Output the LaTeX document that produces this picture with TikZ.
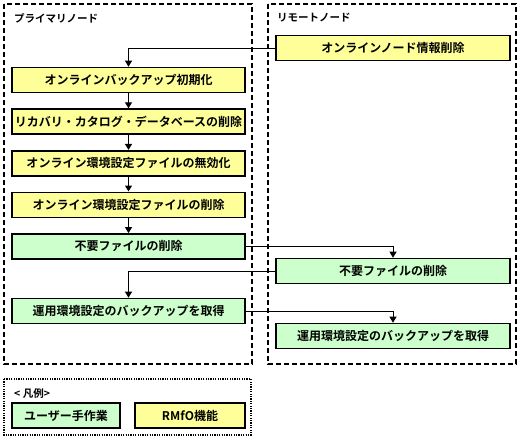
\documentclass[tikz,border=0pt]{standalone}
\usepackage{fontspec}
\setmainfont{Noto Sans CJK JP}[BoldFont={Noto Sans CJK JP Bold}]
\usetikzlibrary{positioning,calc,arrows.meta}
\tikzset{>={Triangle[length=6pt,width=7pt]}}
\definecolor{rmfoyellow}{RGB}{255,255,153}
\definecolor{usergreen}{RGB}{204,255,204}
\tikzset{
  task/.style={draw,line width=1.6pt,minimum height=25pt,inner sep=0pt,
    font=\bfseries\fontsize{12}{14}\selectfont},
  rmfo/.style={task,fill=rmfoyellow},
  user/.style={task,fill=usergreen},
  area/.style={draw,line width=1.4pt,dash pattern=on 5pt off 3pt},
  legendarea/.style={draw,line width=1.5pt,dash pattern=on 1.2pt off 1.2pt},
  title/.style={anchor=west,inner sep=0pt,font=\bfseries\fontsize{10.5}{12}\selectfont},
  flow/.style={->,line width=1pt},
}

\begin{document}
\begin{tikzpicture}[x=1pt,y=-1pt]
\useasboundingbox (0,0) rectangle (522,440);
% node areas
\draw [area] (4,4) rectangle (252,364);
\draw [area] (268,4) rectangle (516,364);
\node [title] (primary) at (14,18) {プライマリノード};
\node [title] (remote) at (277,18) {リモートノード};
% primary node
\node [rmfo,minimum width=233pt] (P1) at (128.5,80) {オンラインバックアップ初期化};
\node [rmfo,minimum width=233pt,below=15pt of P1] (P2) {リカバリ・カタログ・データベースの削除};
\node [rmfo,minimum width=233pt,below=15pt of P2] (P3) {オンライン環境設定ファイルの無効化};
\node [rmfo,minimum width=233pt,below=15pt of P3] (P4) {オンライン環境設定ファイルの削除};
\node [user,minimum width=233pt,below=15pt of P4] (P5) {不要ファイルの削除};
\node [user,minimum width=233pt,below=38pt of P5] (P6) {運用環境設定のバックアップを取得};
% remote node
\node [rmfo,minimum width=234pt] (R1) at (393,48) {オンラインノード情報削除};
\node [user,minimum width=234pt] (R2) at (393,271) {不要ファイルの削除};
\node [user,minimum width=234pt] (R3) at (393,336) {運用環境設定のバックアップを取得};
\draw [flow] (R1.west) -| (P1.north);
\draw [flow] (P1) -- (P2);
\draw [flow] (P2) -- (P3);
\draw [flow] (P3) -- (P4);
\draw [flow] (P4) -- (P5);
\draw [flow] (P5.east) -| (R2.north);
\draw [flow] (R2.west) -| (P6.north);
\draw [flow] (P6.east) -| (R3.north);
% legend
\draw [legendarea] (4,379) rectangle (251,435);
\node [title] (legend) at (14,394) {< 凡例>};
\node [user,minimum width=108pt] (Luser) at (66,415.5) {ユーザー手作業};
\node [rmfo,minimum width=110pt] (Lrmfo) at (190,415.5) {RMfO機能};
\end{tikzpicture}
\end{document}
